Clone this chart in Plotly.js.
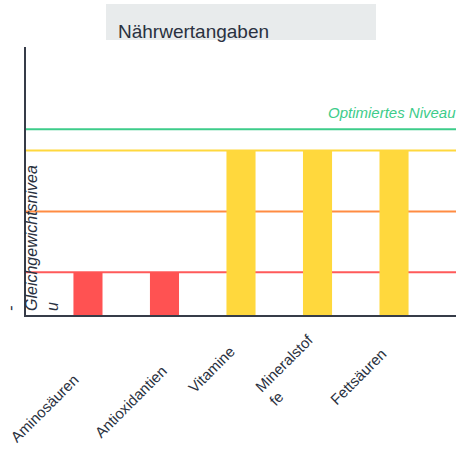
<!DOCTYPE html>
<html>
<head>
<meta charset="utf-8">
<script src="https://cdn.plot.ly/plotly-3.0.1.min.js"></script>
<style>html,body{margin:0;padding:0;background:#fff;}#chart{width:457px;height:450px;}</style>
</head>
<body>
<div id="chart"></div>
<script>
// ---- data ----
var categories = ["Aminosäuren", "Antioxidantien", "Vitamine", "Mineralstoffe", "Fettsäuren"];
var tickLabels = ["Aminosäuren", "Antioxidantien", "Vitamine", "Mineralstof<br>fe", "Fettsäuren"];
var values = [1, 1, 3, 3, 3];
var levelValues = [1, 2, 3, 3.35];
var levelNames = ["Gleichgewichtsniveau", "", "", "Optimiertes Niveau"];
var titleText = "Nährwertangaben";
var sideText = "-<br>Gleichgewichtsnivea<br>u";

// ---- styles ----
var barColors = values.map(function (v) { return v >= 3 ? "#FFD83D" : "#FF5252"; });
var levelColors = ["#FF5A5A", "#FF8C42", "#FFD83D", "#3DCC8A"];
var textColor = "#2a3140";
var font = "Liberation Sans, Arial, sans-serif";
// label centre offsets (px) relative to tick position
var labelDx = [-44, -34, -30, -27, -36];
var labelDy = [-93, -86, -54, -55, -61];

var idx = categories.map(function (c, i) { return i; });

var trace = {
  type: "bar",
  x: idx,
  y: values,
  base: 0,
  marker: { color: barColors },
  hoverinfo: "skip",
  showlegend: false
};

var shapes = [];
shapes.push({
  type: "rect", xref: "paper", yref: "paper",
  x0: 0.186, x1: 0.814, y0: 1.026, y1: 1.160,
  fillcolor: "#E8EBEC", line: { width: 0 }, layer: "below"
});
levelValues.forEach(function (v, i) {
  shapes.push({
    type: "line", xref: "paper", yref: "y",
    x0: 0, x1: 1, y0: v, y1: v,
    line: { color: levelColors[i], width: 2 }, layer: "below"
  });
});

var annotations = [];
tickLabels.forEach(function (t, i) {
  annotations.push({
    x: idx[i], xref: "x", y: 0, yref: "paper",
    text: t, showarrow: false, textangle: -45,
    xanchor: "center", yanchor: "middle", align: "left",
    xshift: labelDx[i], yshift: labelDy[i],
    font: { family: font, size: 15, color: textColor }
  });
});
annotations.push({
  x: 0.697, xref: "paper", y: levelValues[3], yref: "y",
  text: "<i>" + levelNames[3] + "</i>", showarrow: false,
  xanchor: "left", yanchor: "bottom", yshift: 6,
  font: { family: font, size: 15, color: levelColors[3] }
});
annotations.push({
  x: 0.0116, xref: "paper", y: 0, yref: "paper",
  text: "<i>" + sideText + "</i>", showarrow: false, textangle: -90,
  xanchor: "center", yanchor: "bottom", align: "left", yshift: 2,
  font: { family: font, size: 16, color: textColor }
});

var layout = {
  width: 457, height: 450,
  margin: { l: 26, r: 1, t: 47, b: 135 },
  paper_bgcolor: "#ffffff", plot_bgcolor: "#ffffff",
  title: {
    text: titleText, x: 118 / 457, xanchor: "left", xref: "container",
    y: 1 - 31 / 450, yanchor: "middle",
    font: { family: font, size: 19, color: textColor }
  },
  bargap: 0.62,
  xaxis: {
    range: [-0.81, 4.81], showgrid: false, zeroline: false,
    showline: true, linecolor: "#363c48", linewidth: 2,
    showticklabels: false, ticks: "", fixedrange: true,
    tickvals: idx, ticktext: tickLabels
  },
  yaxis: {
    range: [0.3, 4.7], showgrid: false, zeroline: false,
    showline: true, linecolor: "#363c48", linewidth: 2,
    showticklabels: false, ticks: "", fixedrange: true
  },
  shapes: shapes,
  annotations: annotations,
  showlegend: false
};

Plotly.newPlot("chart", [trace], layout, { displayModeBar: false, staticPlot: true });
</script>
</body>
</html>
